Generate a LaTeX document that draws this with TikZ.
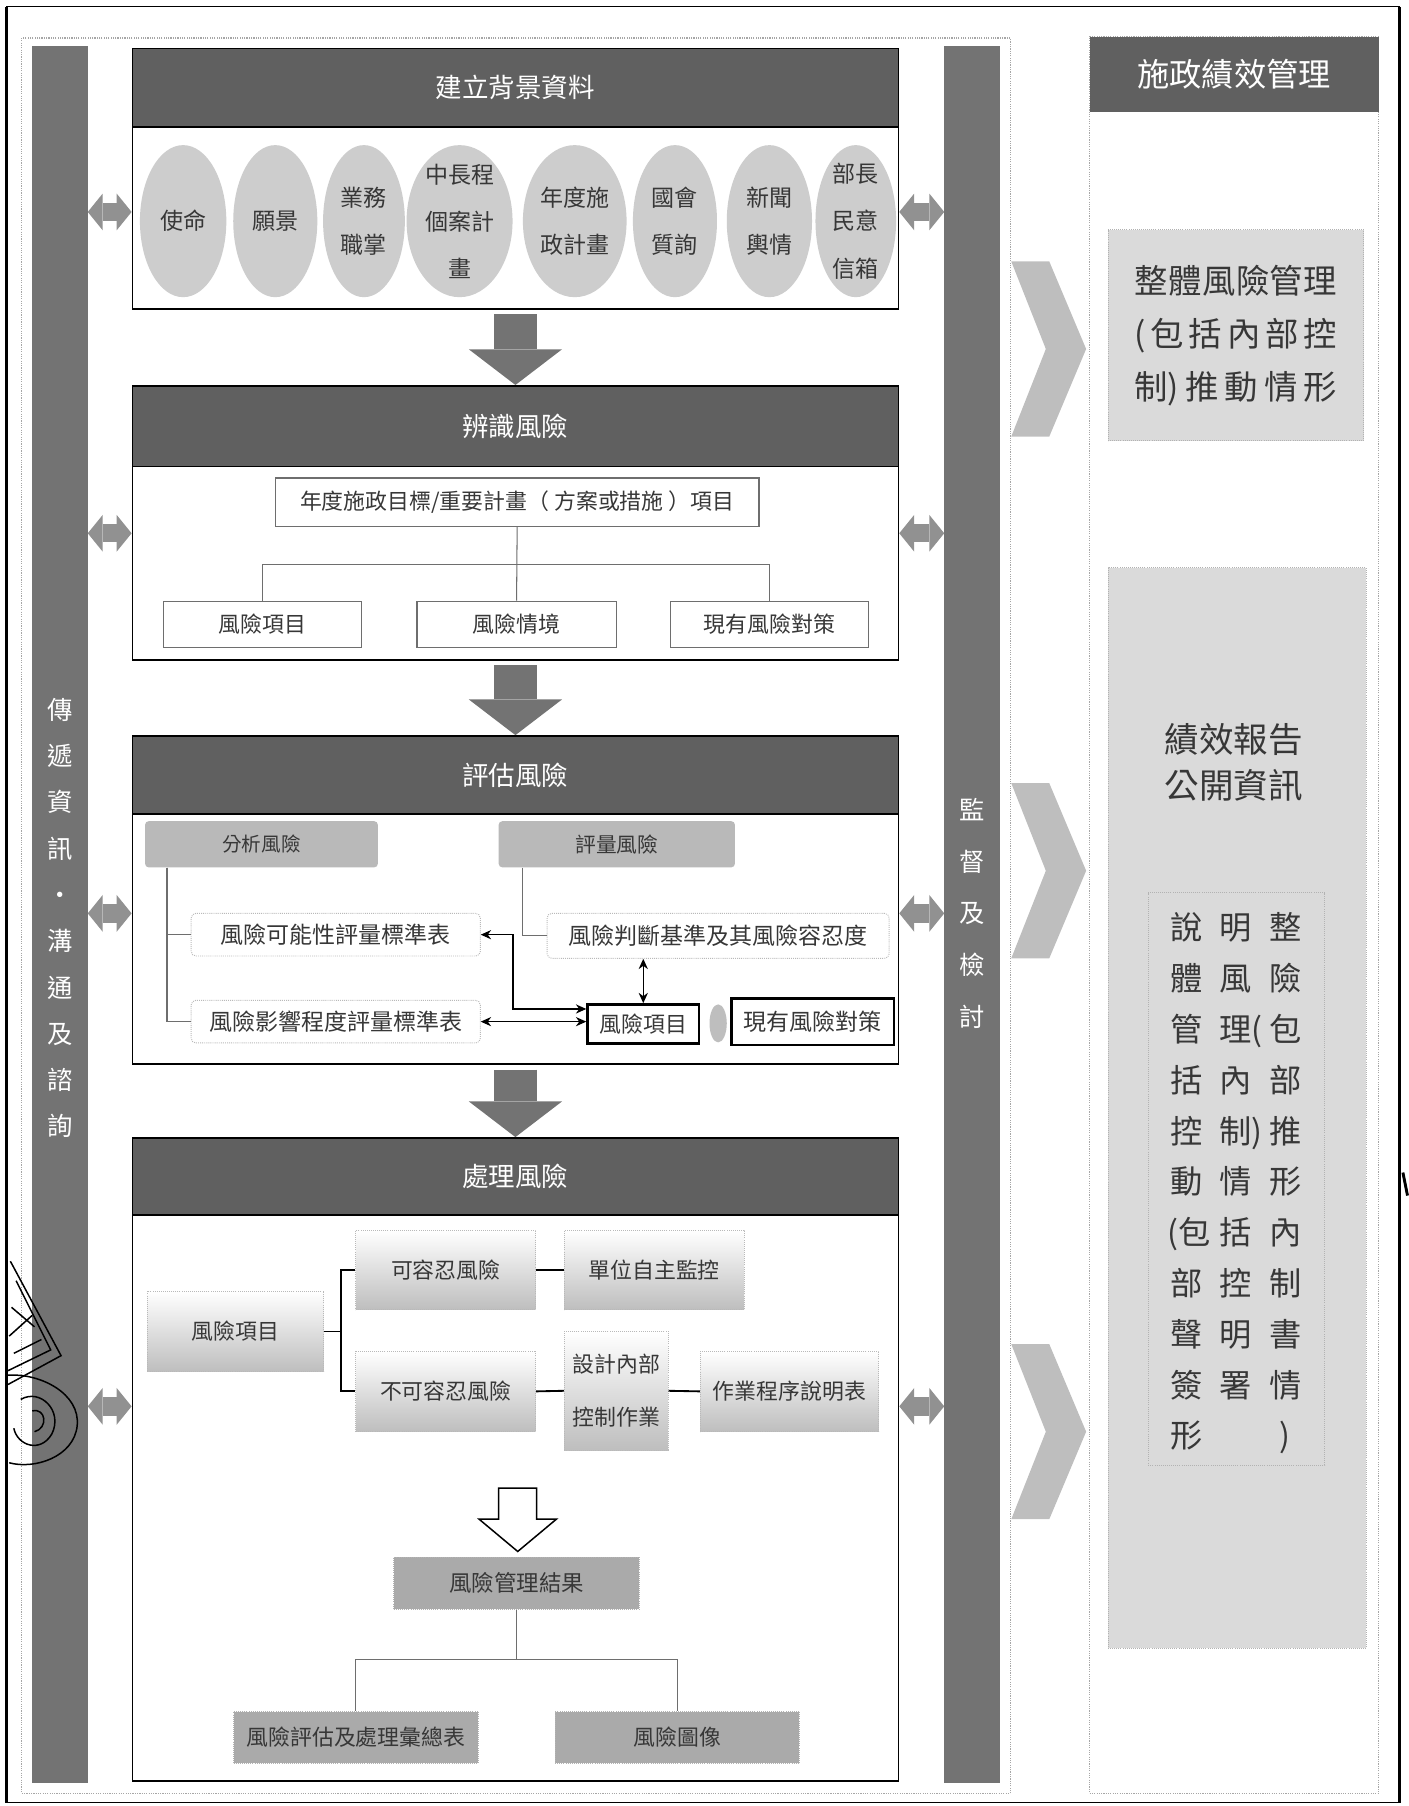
\documentclass[tikz,border=0pt]{standalone}
\usepackage{fontspec}
\setmainfont{Noto Sans CJK TC}
\usetikzlibrary{shapes.geometric,arrows.meta}
\definecolor{hdrgray}{RGB}{96,96,96}
\definecolor{bargray}{RGB}{115,115,115}
\definecolor{ellgray}{RGB}{205,205,205}
\definecolor{txtgray}{RGB}{55,55,55}
\definecolor{linegray}{RGB}{110,110,110}
\definecolor{angray}{RGB}{185,185,185}
\definecolor{procgray}{RGB}{190,190,190}
\definecolor{resgray}{RGB}{170,170,170}
\definecolor{arrgray}{RGB}{115,115,115}
\definecolor{sagray}{RGB}{145,145,145}
\definecolor{chevgray}{RGB}{190,190,190}
\definecolor{rgray}{RGB}{218,218,218}
\newcommand{\fsz}[2]{\fontsize{#1}{#2}\selectfont}
\newcommand{\gcell}[1]{\makebox[43pt]{#1}}

\begin{document}
\begin{tikzpicture}[x=1pt,y=-1pt,
    stagebox/.style={draw=black,line width=1.5pt,fill=white,minimum width=665pt,inner sep=0pt},
    hdr/.style={draw=black,line width=1.5pt,fill=hdrgray,text=white,font=\fsz{23}{28},minimum width=665pt,inner sep=0pt,anchor=north},
    bar/.style={fill=bargray,minimum width=48pt,minimum height=1508pt,inner sep=0pt},
    bartxt/.style={text=white,font=\fsz{22}{40.2},align=center,inner sep=0pt},
    ell/.style={ellipse,fill=ellgray,minimum height=132pt,inner sep=0pt},
    elltxt/.style={text=txtgray,font=\fsz{20}{41},align=center,inner sep=0pt},
    idbox/.style={draw=linegray,line width=1.2pt,fill=white,minimum height=40pt,inner sep=0pt,text=txtgray,font=\fsz{19}{22}},
    conn/.style={draw=linegray,line width=0.9pt},
    anbox/.style={fill=angray,rounded corners=3pt,minimum height=40pt,inner sep=0pt,text=txtgray},
    stdbox/.style={draw=gray!55,densely dotted,line width=0.8pt,rounded corners=4pt,fill=white,minimum height=37pt,inner sep=0pt,text=txtgray,font=\fsz{20}{24}},
    boldbox/.style={draw=black,line width=2pt,fill=white,inner sep=0pt,text=txtgray,font=\fsz{19}{22}},
    arr/.style={draw=black,line width=1pt,{Stealth[length=9pt,width=8pt]}-{Stealth[length=9pt,width=8pt]}},
    procbox/.style={draw=gray!55,densely dotted,line width=0.8pt,top color=white,middle color=white,bottom color=procgray,minimum width=156pt,minimum height=70pt,inner sep=0pt,text=txtgray,font=\fsz{19}{46},align=center},
    tree/.style={draw=black,line width=1.6pt},
    resbox/.style={draw=gray!60,densely dotted,line width=0.8pt,fill=resgray,minimum width=212pt,minimum height=45pt,inner sep=0pt,text=txtgray,font=\fsz{19}{22}},
    downarr/.style={draw=arrgray,line width=37pt,-{Triangle[width=81pt,length=31pt,line width=0pt]},shorten <=4pt},
    sidearr/.style={draw=sagray,line width=16pt,{Triangle[width=32pt,length=13pt,line width=0pt]}-{Triangle[width=32pt,length=13pt,line width=0pt]}},
    chev/.style={fill=chevgray},
    rbox/.style={draw=gray!60,densely dotted,line width=0.8pt,fill=rgray,inner sep=0pt,text=txtgray},
    stamp/.style={draw=black,line width=1.3pt}]
  \useasboundingbox (0,0) rectangle (1223,1568);

  % frames
  \draw[line width=1pt] (6,6) rectangle (1215,1565);
  \draw[line width=2.5pt] (6,6) -- (6,1565) (1215,6) -- (1215,1565);
  \node[draw=gray!70,densely dotted,line width=1pt,minimum width=858pt,minimum height=1524pt,inner sep=0pt] (lc) at (448,795) {};
  \node[draw=gray!70,densely dotted,line width=1pt,minimum width=251pt,minimum height=1525pt,inner sep=0pt] (rc) at (1071.5,794.5) {};

  % side bars
  \node[bar] (lbar) at (52,794) {};
  \node[bar] (rbar) at (844,794) {};
  \node[bartxt] at (52,797) {傳\\遞\\資\\訊\\・\\溝\\通\\及\\諮\\詢};
  \node[bartxt,font=\fsz{22}{45}] at (844,793) {監\\督\\及\\檢\\討};

  % stage 1
  \node[stagebox,minimum height=226pt] (s1) at (447.5,155) {};
  \node[hdr,minimum height=68pt] (h1) at (s1.north) {建立背景資料};
  \node[ell,minimum width=75pt] (e1) at (159,192) {};
  \node[ell,minimum width=73pt] (e2) at (239,192) {};
  \node[ell,minimum width=71pt] (e3) at (316,192) {};
  \node[ell,minimum width=92pt] (e4) at (399,192) {};
  \node[ell,minimum width=90pt] (e5) at (499,192) {};
  \node[ell,minimum width=73pt] (e6) at (586,192) {};
  \node[ell,minimum width=74pt] (e7) at (668,192) {};
  \node[ell,minimum width=70pt] (e8) at (743,192) {};
  \node[elltxt] at (e1) {使命};
  \node[elltxt] at (e2) {願景};
  \node[elltxt] at (e3) {業務\\職掌};
  \node[elltxt] at (e4) {中長程\\個案計\\畫};
  \node[elltxt] at (e5) {年度施\\政計畫};
  \node[elltxt] at (e6) {國會\\質詢};
  \node[elltxt] at (e7) {新聞\\輿情};
  \node[elltxt] at (e8) {部長\\民意\\信箱};

  % stage 2
  \node[stagebox,minimum height=238pt] (s2) at (447.5,454) {};
  \node[hdr,minimum height=70pt] (h2) at (s2.north) {辨識風險};
  \node[idbox,minimum width=420pt,minimum height=42pt] (g) at (449,436) {年度施政目標/重要計畫（ 方案或措施 ）項目};
  \node[idbox,minimum width=172pt] (r1) at (228,542) {風險項目};
  \node[idbox,minimum width=173pt] (r2) at (448.5,542) {風險情境};
  \node[idbox,minimum width=172pt] (r3) at (668,542) {現有風險對策};
  \draw[conn] (g.south) -- (r2.north);
  \draw[conn] (g.south |- 0,490) -| (r1.north);
  \draw[conn] (g.south |- 0,490) -| (r3.north);

  % stage 3
  \node[stagebox,minimum height=285pt] (s3) at (447.5,781.5) {};
  \node[hdr,minimum height=68pt] (h3) at (s3.north) {評估風險};
  \node[anbox,minimum width=202pt,font=\fsz{17}{20}] (a1) at (227,733) {分析風險};
  \node[anbox,minimum width=205pt,font=\fsz{18}{20}] (a2) at (535.5,733) {評量風險};
  \node[stdbox,minimum width=251pt] (t1) at (291.5,811.5) {風險可能性評量標準表};
  \node[stdbox,minimum width=297pt,minimum height=39pt] (t2) at (623.5,812.5) {風險判斷基準及其風險容忍度};
  \node[stdbox,minimum width=251pt] (t3) at (291.5,887) {風險影響程度評量標準表};
  \node[boldbox,minimum width=97pt,minimum height=34pt] (ri) at (558.5,889) {風險項目};
  \node[ellipse,fill=procgray,minimum width=15pt,minimum height=33pt,inner sep=0pt] (pl) at (623.5,888.5) {};
  \node[boldbox,minimum width=141pt,minimum height=40pt,font=\fsz{20}{22}] (cm) at (705.5,887) {現有風險對策};
  \draw[conn] (a1.south -| 145,0) |- (t1.west);
  \draw[conn] (a1.south -| 145,0) |- (t3.west);
  \draw[conn] (a2.south -| 454,0) |- (t2.west);
  \draw[arr] (t1.east) -- ++(28,0) |- ([yshift=13pt]ri.west);
  \draw[arr] (t3.east) -- (t3.east -| ri.west);
  \draw[arr] (ri.north |- t2.south) -- (ri.north);

  % stage 4
  \node[stagebox,minimum height=558pt] (s4) at (447.5,1267) {};
  \node[hdr,minimum height=67pt] (h4) at (s4.north) {處理風險};
  \node[procbox,minimum width=153pt] (p0) at (204.5,1156) {風險項目};
  \node[procbox,minimum height=69pt] (p1) at (387,1102.5) {可容忍風險};
  \node[procbox,minimum height=69pt] (p2) at (568,1102.5) {單位自主監控};
  \node[procbox] (p3) at (387,1208) {不可容忍風險};
  \node[procbox,minimum width=90pt,minimum height=103pt] (p4) at (535,1207.5) {設計內部\\控制作業};
  \node[procbox,minimum width=155pt] (p5) at (685.5,1208) {作業程序說明表};
  \draw[tree] (p0.east) -- ++(15,0) |- (p1.west);
  \draw[tree] (p0.east) ++(15,0) |- (p3.west);
  \draw[tree] (p1.east) -- (p2.west);
  \draw[tree] (p3.east) -- (p4.west);
  \draw[tree] (p4.east) -- (p5.west);
  \coordinate (ha) at (449.5,1292);
  \draw[line width=1.3pt,fill=white] (ha) ++(-16.5,0) -- ++(33,0) -- ++(0,27) -- ++(17,0) -- ++(-33.5,28) -- ++(-33.5,-28) -- ++(17,0) -- cycle;
  \node[resbox,minimum width=213pt,font=\fsz{19.5}{22}] (m) at (448.5,1374.5) {風險管理結果};
  \node[resbox] (b1) at (309,1508.5) {風險評估及處理彙總表};
  \node[resbox] (b2) at (588,1508.5) {風險圖像};
  \draw[conn] (m.south) -- (m.south |- 0,1441) -| (b1.north);
  \draw[conn] (m.south |- 0,1441) -| (b2.north);

  % flow between stages
  \draw[downarr] (s1.south) -- (s2.north);
  \draw[downarr] (s2.south) -- (s3.north);
  \draw[downarr] (s3.south) -- (s4.north);
  \draw[sidearr] (lbar.east |- 0,184) -- (s1.west |- 0,184);
  \draw[sidearr] (s1.east |- 0,184) -- (rbar.west |- 0,184);
  \draw[sidearr] (lbar.east |- 0,463) -- (s2.west |- 0,463);
  \draw[sidearr] (s2.east |- 0,463) -- (rbar.west |- 0,463);
  \draw[sidearr] (lbar.east |- 0,793) -- (s3.west |- 0,793);
  \draw[sidearr] (s3.east |- 0,793) -- (rbar.west |- 0,793);
  \draw[sidearr] (lbar.east |- 0,1221) -- (s4.west |- 0,1221);
  \draw[sidearr] (s4.east |- 0,1221) -- (rbar.west |- 0,1221);

  % chevrons
  \fill[chev] (878,227) -- (911,227) -- (943,303) -- (911,379) -- (878,379) -- (908,303) -- cycle;
  \fill[chev] (878,680) -- (911,680) -- (943,756) -- (911,832) -- (878,832) -- (908,756) -- cycle;
  \fill[chev] (878,1167) -- (911,1167) -- (943,1243) -- (911,1319) -- (878,1319) -- (908,1243) -- cycle;

  % right column
  \node[fill=hdrgray,text=white,font=\fsz{28}{32},minimum width=251pt,minimum height=65pt,inner sep=0pt] (rh) at (1071.5,64.5) {施政績效管理};
  \node[rbox,minimum width=222pt,minimum height=183pt,font=\fsz{29}{46},align=center] (rb1) at (1073,291) {\makebox[176pt][s]{整\hfill 體\hfill 風\hfill 險\hfill 管\hfill 理}\\\makebox[176pt][s]{(\hfill 包\hfill 括\hfill 內\hfill 部\hfill 控}\\\makebox[176pt][s]{制)\hfill 推\hfill 動\hfill 情\hfill 形}};
  \node[rbox,minimum width=224pt,minimum height=938pt] (rb2) at (1074,962) {};
  \node[text=txtgray,font=\fsz{30}{40},align=center,inner sep=0pt] (rt2) at (1071,662) {績效報告\\公開資訊};
  \node[draw=gray!60,densely dotted,line width=0.8pt,minimum width=153pt,minimum height=497pt,inner sep=0pt] (ib) at (1073.5,1023.5) {};
  \node[text=txtgray,font=\fsz{28}{44.1},align=left,inner sep=0pt] (it) at (1073,1027.5) {%
    \gcell{說}\gcell{明}\gcell{整}\\
    \gcell{體}\gcell{風}\gcell{險}\\
    \gcell{管}\gcell{理\rlap{(}}\gcell{包}\\
    \gcell{括}\gcell{內}\gcell{部}\\
    \gcell{控}\gcell{制\rlap{)}}\gcell{推}\\
    \gcell{動}\gcell{情}\gcell{形}\\
    \makebox[43pt][r]{(包}\gcell{括}\gcell{內}\\
    \gcell{部}\gcell{控}\gcell{制}\\
    \gcell{聲}\gcell{明}\gcell{書}\\
    \gcell{簽}\gcell{署}\gcell{情}\\
    \gcell{形}\gcell{}\gcell{)}};

  % stamp at left edge
  \draw[stamp] (9,1095) -- (53,1177) -- (7,1202);
  \draw[stamp] (14,1112) -- (44,1172) -- (7,1190);
  \draw[stamp] (10,1135) -- (30,1152) (8,1160) -- (28,1142) (12,1175) -- (36,1163);
  \draw[stamp] (7,1194) .. controls (35,1192) and (70,1210) .. (67,1238) .. controls (64,1265) and (30,1276) .. (8,1270);
  \draw[stamp] (18,1215) .. controls (35,1205) and (55,1225) .. (45,1245) .. controls (35,1262) and (15,1255) .. (12,1240);
  \draw[stamp] (28,1225) .. controls (40,1222) and (42,1240) .. (30,1243);
  \draw[line width=2.5pt] (1218,1018) -- (1222,1038);
\end{tikzpicture}
\end{document}
